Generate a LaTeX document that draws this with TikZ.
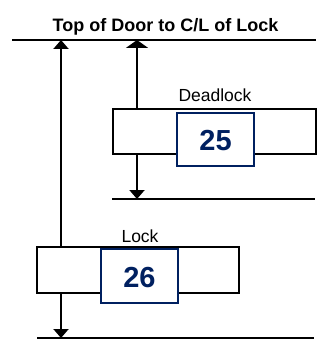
\documentclass[tikz,border=0pt]{standalone}
\usepackage{fontspec}
\setmainfont{Liberation Sans}
\usetikzlibrary{arrows.meta}
\definecolor{navy}{RGB}{0,32,96}
\begin{document}
\begin{tikzpicture}[x=1pt,y=-1pt,
  refline/.style={line width=2.5pt,line cap=butt},
  thinline/.style={line width=1.5pt},
  dimarrow/.style={line width=2pt,{Triangle[width=15pt,length=9pt]}-{Triangle[width=15pt,length=9pt]}},
  lockbox/.style={draw=black,fill=white,line width=2.5pt},
  numbox/.style={draw=navy,fill=white,line width=2pt},
  numtext/.style={font=\fontsize{29}{30}\selectfont\bfseries,text=navy,anchor=base,inner sep=0pt},
  labeltext/.style={font=\fontsize{17.5}{18}\selectfont,anchor=base,inner sep=0pt},
  titletext/.style={font=\fontsize{18}{19}\selectfont\bfseries,anchor=base,inner sep=0pt}]
\useasboundingbox (0,0) rectangle (328,344);
% reference lines
\coordinate (topL) at (12,40);
\coordinate (topR) at (316,40);
\coordinate (midL) at (112,199);
\coordinate (midR) at (315,199);
\coordinate (botL) at (37,338);
\coordinate (botR) at (314,338);
\draw[refline] (topL) -- (topR);
\draw[thinline] (midL) -- (midR);
\draw[thinline] (botL) -- (botR);
% dimension arrows
\coordinate (longTop) at (61,40);
\coordinate (longBot) at (61,338);
\coordinate (shortTop) at (137,40);
\coordinate (shortBot) at (137,199);
\draw[line width=2pt,{Triangle[width=15pt,length=9pt]}-{Triangle[width=15pt,length=9pt]}] (longBot) -- (longTop);
\draw[line width=2pt,{Triangle[width=15pt,length=9pt]}-{Triangle[width=22pt,length=8pt]}] (shortBot) -- (shortTop);
% title
\node[titletext] (title) at (165.5,31.7) {Top of Door to C/L of Lock};
% deadlock
\draw[lockbox] (113,109) rectangle (316,154);
\draw[numbox] (177,113) rectangle (254,166);
\node[numtext] (n25) at (215.5,151) {25};
\node[labeltext] (dl) at (215,102) {Deadlock};
% lock
\draw[lockbox] (37,247) rectangle (239,293);
\draw[numbox] (101,249) rectangle (178,303);
\node[numtext] (n26) at (139.5,287) {26};
\node[labeltext] (lk) at (140,242) {Lock};
\end{tikzpicture}
\end{document}
